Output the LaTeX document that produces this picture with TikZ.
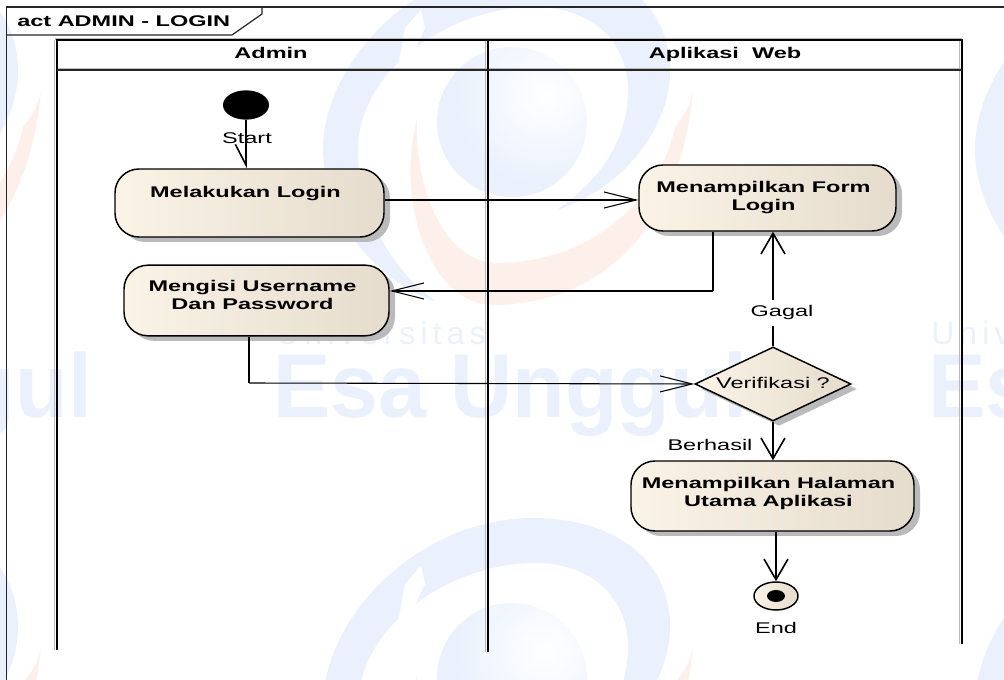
\documentclass[tikz,border=0pt]{standalone}
\usepackage{fontspec}
\setmainfont[FakeStretch=1.52]{Liberation Sans}
\newfontfamily\markfont[FakeStretch=0.95]{Liberation Sans}
\newfontfamily\markthin[LetterSpace=16]{Liberation Sans}
\usepackage{tikz}
\usetikzlibrary{arrows.meta,shapes.geometric,shadows}
\definecolor{markblue}{RGB}{234,241,253}
\definecolor{markorange}{RGB}{253,240,235}
\definecolor{actleft}{RGB}{251,243,230}
\definecolor{actright}{RGB}{229,220,205}
\definecolor{laneshade}{RGB}{185,185,185}
\tikzset{
  acttxt/.style={font=\fontsize{11.6}{13.5}\selectfont\bfseries},
  plaintxt/.style={font=\fontsize{11.6}{13.5}\selectfont,inner sep=0pt},
  actshadow/.style={drop shadow={shadow xshift=4.5pt,shadow yshift=-3.75pt,fill=black!27,opacity=1}},
  activity/.style={draw,line width=1.1pt,rounded corners=18pt,left color=actleft,middle color=actleft,right color=actright,actshadow,acttxt,inner sep=0pt},
  decision/.style={diamond,draw,line width=1.1pt,aspect=2.1,left color=actleft,middle color=actleft,right color=actright,actshadow,plaintxt},
  flowh/.style={line width=0.8pt,-{Straight Barb[length=24pt,width=12pt]}},
  flowv/.style={line width=1.5pt,-{Straight Barb[length=15.5pt,width=18pt,line width=1.2pt]}},
  linev/.style={line width=1.5pt},
  laneline/.style={line width=1.6pt},
  laneback/.style={line width=1.3pt,laneshade},
}
\newcommand{\lifted}[2][0pt]{\raisebox{#1}[0pt][0pt]{\begin{tabular}{@{}c@{}}#2\end{tabular}}\kern6pt}
\begin{document}
\begin{tikzpicture}[x=0.75pt,y=-0.75pt]
\useasboundingbox (0,0) rectangle (1004,680);
\fill[white] (0,0) rectangle (1004,680);

% Watermark
\begin{scope}
\clip (0,0) rectangle (1004,680);
\foreach \markdx/\markdy in {0/0,-652/0,652/0,0/556,-652/556,652/556} {
  \begin{scope}[shift={(\markdx,\markdy)}]
    \fill[markorange] (417,120) .. controls (395,200) and (430,305) .. (493,305) .. controls (590,305) and (680,240) .. (693,90) .. controls (690,110) and (680,120) .. (675,127) .. controls (660,200) and (590,263) .. (497,263) .. controls (450,263) and (415,200) .. (417,120) -- cycle;
    \fill[markblue] (437,302) .. controls (370,280) and (323,210) .. (323,150) .. controls (323,60) and (420,-38) .. (533,-38) .. controls (610,-38) and (670,0) .. (670,71) .. controls (670,130) and (620,190) .. (557,210) .. controls (600,180) and (628,140) .. (628,91) .. controls (628,40) and (590,7) .. (535,7) .. controls (450,7) and (358,70) .. (358,150) .. controls (358,210) and (390,270) .. (437,302) -- cycle;
    \fill[white] (405,28) -- (393,95) -- (425,28) -- (421,10) -- cycle;
    \begin{scope}
      \clip (512,122) circle [radius=75];
      \shade[inner color=white,outer color=markblue] (545,95) circle [radius=90];
      \fill[markblue,even odd rule] (512,122) circle [radius=76] (545,95) circle [radius=90];
    \end{scope}
  \end{scope}
}
\foreach \markdx in {-655,0,655} {
  \node[anchor=base west,inner sep=0pt,text=markblue,font=\markfont\fontsize{68}{70}\selectfont\bfseries] at (273+\markdx,418) {Esa Unggul};
  \node[anchor=base west,inner sep=0pt,text=markblue,font=\markthin\fontsize{24}{26}\selectfont] at (276+\markdx,345) {Universitas};
}
\end{scope}

% Frame
\draw[line width=1pt,black!85] (6.5,681) -- (6.5,7) -- (1005,7);
\draw[line width=0.9pt,black!85] (6.5,35) -- (232,35) -- (262,14) -- (262,7);
\node[anchor=west,inner sep=0pt,acttxt] (frametitle) at (17,21) {act ADMIN - LOGIN};

% Lanes
\draw[laneback] (55,39) -- (962,39);
\draw[laneback] (57,69) -- (962,69);
\foreach \lanex/\laneend in {57/650,488/652,962/644} {
  \draw[laneback] (\lanex-2.5,40) -- (\lanex-2.5,\laneend);
  \draw[laneline] (\lanex,40) -- (\lanex,\laneend);
}
\draw[laneline] (56,40) -- (963,40);
\draw[line width=1.3pt,black!85] (57,70) -- (962,70);
\node[acttxt,anchor=base] (admin) at (271,59) {Admin};
\node[acttxt,anchor=base] (web) at (725,59) {Aplikasi\ \ Web};

% Start
\node[ellipse,fill=black,minimum width=34.5pt,minimum height=22pt,inner sep=0pt] (start) at (246,105) {};

% Activities
\node[activity,minimum width=201.75pt,minimum height=51pt] (login) at (249.5,203) {\lifted[3.75pt]{Melakukan Login}};
\node[activity,minimum width=198.75pt,minimum height=53pt] (isi) at (256.5,300.5) {\lifted[-0.25pt]{Mengisi Username\\Dan Password}};
\node[activity,minimum width=192.75pt,minimum height=49.5pt] (form) at (767.5,198) {\lifted[-3.25pt]{Menampilkan Form\\Login}};
\node[activity,minimum width=212.25pt,minimum height=52.5pt] (halaman) at (772.5,496) {\lifted[-1.4pt]{Menampilkan Halaman\\Utama Aplikasi}};

% Decision
\node[decision,minimum width=117pt,minimum height=55.5pt] (verif) at (773,384) {\raisebox{1.5pt}{Verifikasi ?}};

% End
\node[ellipse,draw,line width=1.1pt,left color=actleft,middle color=actleft,right color=actright,minimum width=33pt,minimum height=21pt,inner sep=0pt] (finish) at (776,596) {};
\node[ellipse,fill=black,minimum width=13.5pt,minimum height=9pt,inner sep=0pt] (finishdot) at (finish.center) {};

% Bends
\coordinate (bendform) at (713,291);
\coordinate (bendisi) at (249,383);
\coordinate (rowlogin) at (0,200);

% Connectors
\draw[linev,-{Straight Barb[harpoon,swap,length=15.5pt,width=16pt,line width=1.2pt]}] (start) -- (start |- login.north);
\draw[flowh] (login.east |- rowlogin) -- (form.west |- rowlogin);
\draw[linev] (form.south -| bendform) -- (bendform);
\draw[flowh] (bendform) -- (isi.east |- bendform);
\draw[linev] (isi.south -| bendisi) -- (bendisi);
\draw[flowh] (bendisi) -- (verif.west);
\draw[flowv] (verif.north) -- (form.south -| verif.north);
\draw[flowv] (verif.south) -- (halaman.north -| verif.south);
\draw[flowv] (halaman.south -| finish.north) -- (finish.north);

% Labels
\node[plaintxt] (startlabel) at (247,138) {Start};
\node[plaintxt,fill=white,inner xsep=1pt,inner ysep=4pt] (gagal) at (782,313) {Gagal};
\node[plaintxt] (berhasil) at (710,445) {Berhasil};
\node[plaintxt] (endlabel) at (776,628) {End};
\end{tikzpicture}
\end{document}
